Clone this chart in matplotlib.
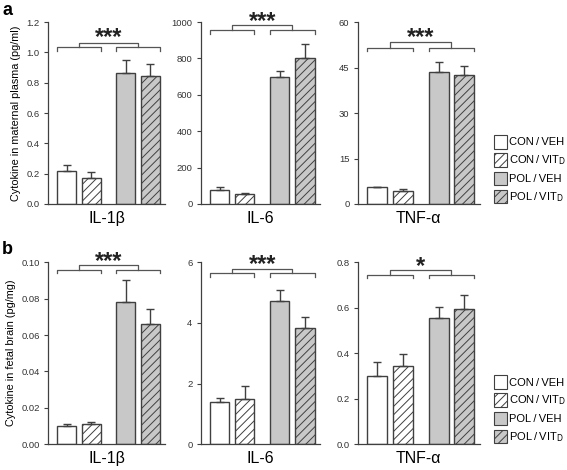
import numpy as np
import matplotlib
matplotlib.use("Agg")
import matplotlib.pyplot as plt
from matplotlib.patches import Patch

# --- DATA ---
groups = ["CON\u2009/\u2009VEH", "CON\u2009/\u2009VIT$_\\mathrm{D}$",
          "POL\u2009/\u2009VEH", "POL\u2009/\u2009VIT$_\\mathrm{D}$"]
cytokines = ["IL-1\u03b2", "IL-6", "TNF-\u03b1"]

# (a) maternal plasma (pg/ml)
plasma_il1b = [0.217, 0.169, 0.862, 0.842]
plasma_il1b_err = [0.037, 0.043, 0.086, 0.079]
plasma_il6 = [79, 53, 699, 802]
plasma_il6_err = [16, 9, 33, 77]
plasma_tnfa = [5.5, 4.3, 43.6, 42.5]
plasma_tnfa_err = [0.15, 0.7, 3.2, 2.9]

# (b) fetal brain (pg/mg)
brain_il1b = [0.0100, 0.0113, 0.0784, 0.0662]
brain_il1b_err = [0.0013, 0.0011, 0.0119, 0.0082]
brain_il6 = [1.39, 1.50, 4.71, 3.84]
brain_il6_err = [0.13, 0.43, 0.36, 0.37]
brain_tnfa = [0.301, 0.342, 0.556, 0.595]
brain_tnfa_err = [0.060, 0.054, 0.047, 0.062]

plasma_ticks = [[0.0, 0.2, 0.4, 0.6, 0.8, 1.0, 1.2], [0, 200, 400, 600, 800, 1000], [0, 15, 30, 45, 60]]
brain_ticks = [[0.00, 0.02, 0.04, 0.06, 0.08, 0.10], [0, 2, 4, 6], [0.0, 0.2, 0.4, 0.6, 0.8]]
plasma_fmt = ["%.1f", "%d", "%d"]
brain_fmt = ["%.2f", "%d", "%.1f"]
plasma_stars = ["***", "***", "***"]
brain_stars = ["***", "***", "*"]

# --- STYLE ---
EDGE = "#404040"
GREY = "#c8c8c8"
fills = ["white", "white", GREY, GREY]
hatches = [None, "////", None, "////"]
xpos = [0, 1, 2.4, 3.4]
WIDTH = 0.78
plt.rcParams["font.family"] = ["Liberation Sans", "DejaVu Sans"]
plt.rcParams["hatch.color"] = EDGE
plt.rcParams["hatch.linewidth"] = 0.7

fig = plt.figure(figsize=(5.67, 4.70), dpi=100)
lefts = [0.085, 0.354, 0.631]
widths = [0.206, 0.21, 0.215]
rows = [0.566, 0.055]
H = 0.387


def draw_panel(ax, vals, errs, ticks, fmt, label, stars, bracket):
    for x, v, f, h in zip(xpos, vals, fills, hatches):
        ax.bar(x, v, width=WIDTH, color=f, edgecolor=EDGE, linewidth=1.0,
               hatch=h, zorder=2)
    ax.errorbar(xpos, vals, yerr=[np.zeros(len(vals)), errs], fmt="none",
                ecolor=EDGE, elinewidth=1.0, capsize=3, capthick=1.0, zorder=3)
    ax.set_xlim(-0.75, 4.0)
    ax.set_ylim(ticks[0], ticks[-1])
    ax.set_yticks(ticks)
    ax.set_yticklabels([fmt % t for t in ticks], fontsize=6.8, color="#333333")
    ax.set_xticks([])
    ax.set_xlabel(label, fontsize=11.5, labelpad=5)
    for s in ["top", "right"]:
        ax.spines[s].set_visible(False)
    for s in ["left", "bottom"]:
        ax.spines[s].set_color(EDGE)
        ax.spines[s].set_linewidth(0.9)
    ax.tick_params(axis="y", direction="out", length=3, width=0.8, color=EDGE, pad=3)

    # significance brackets
    yb, ytick, yc, ys = bracket
    kw = dict(color="#555555", lw=0.9, clip_on=False)
    l0, l1 = xpos[0] - WIDTH / 2, xpos[1] + WIDTH / 2
    r0, r1 = xpos[2] - WIDTH / 2, xpos[3] + WIDTH / 2
    ax.plot([l0, l0, l1, l1], [ytick, yb, yb, ytick], **kw)
    ax.plot([r0, r0, r1, r1], [ytick, yb, yb, ytick], **kw)
    lm, rm = (l0 + l1) / 2, (r0 + r1) / 2
    ax.plot([lm, lm, rm, rm], [yb, yc, yc, yb], **kw)
    ax.text((lm + rm) / 2, ys, stars, ha="center", va="center", fontsize=17,
            fontweight="bold", color="#222222", clip_on=False)


plasma_data = [(plasma_il1b, plasma_il1b_err), (plasma_il6, plasma_il6_err), (plasma_tnfa, plasma_tnfa_err)]
brain_data = [(brain_il1b, brain_il1b_err), (brain_il6, brain_il6_err), (brain_tnfa, brain_tnfa_err)]

plasma_brackets = [(1.036, 1.01, 1.062, 1.095), (954, 937, 982, 1005), (51.6, 50.3, 53.4, 55.0)]
brain_brackets = [(0.096, 0.0943, 0.0987, 0.1005), (5.65, 5.52, 5.79, 5.93), (0.746, 0.729, 0.768, 0.783)]

axes = []
for r, (data, ticks, fmts, stars, brk) in enumerate([
        (plasma_data, plasma_ticks, plasma_fmt, plasma_stars, plasma_brackets),
        (brain_data, brain_ticks, brain_fmt, brain_stars, brain_brackets)]):
    row_axes = []
    for c in range(3):
        ax = fig.add_axes([lefts[c], rows[r], widths[c], H])
        draw_panel(ax, data[c][0], data[c][1], ticks[c], fmts[c], cytokines[c], stars[c], brk[c])
        row_axes.append(ax)
    axes.append(row_axes)

axes[0][0].set_ylabel("Cytokine in maternal plasma (pg/ml)", fontsize=7.8, labelpad=4)
axes[1][0].set_ylabel("Cytokine in fetal brain (pg/mg)", fontsize=7.8, labelpad=4)

fig.text(0.004, 0.995, "a", fontsize=13, fontweight="bold", va="top")
fig.text(0.004, 0.487, "b", fontsize=13, fontweight="bold", va="top")

handles = [Patch(facecolor=f, edgecolor=EDGE, hatch=h, linewidth=0.8, label=g)
           for f, h, g in zip(fills, hatches, groups)]
for r in range(2):
    axes[r][2].legend(handles=handles, loc="center left", bbox_to_anchor=(1.055, 0.19),
                      frameon=False, fontsize=8, handlelength=1.2, handleheight=1.5,
                      handletextpad=0.1, labelspacing=0.4, borderaxespad=0.3)

fig.savefig("out.png", dpi=100)
